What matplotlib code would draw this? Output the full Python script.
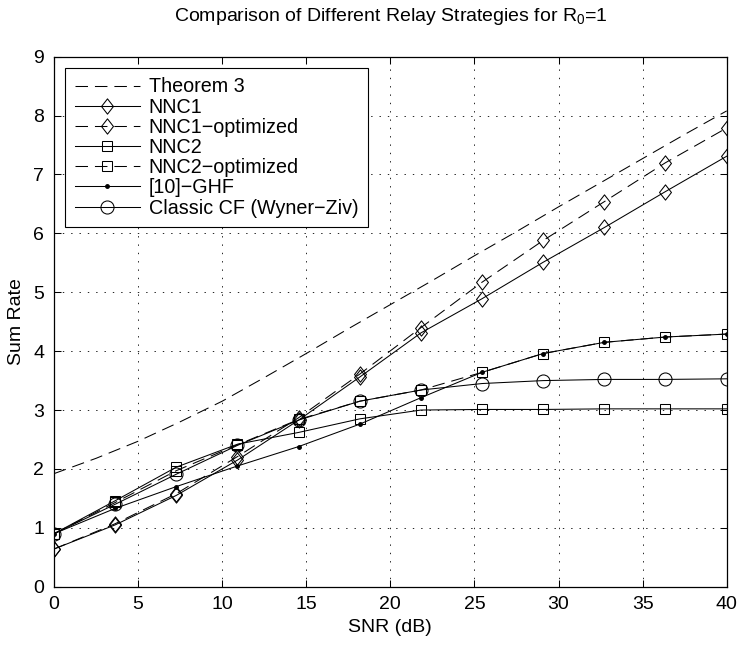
import matplotlib
matplotlib.use("Agg")
import matplotlib.pyplot as plt
from matplotlib.path import Path

# values
snr = [0, 3.64, 7.27, 10.91, 14.55, 18.18, 21.82, 25.45, 29.09, 32.73, 36.36, 40]
nnc1 = [0.64, 1.05, 1.55, 2.15, 2.83, 3.56, 4.31, 4.89, 5.51, 6.10, 6.71, 7.31]
nnc1_opt = [0.64, 1.07, 1.58, 2.21, 2.87, 3.61, 4.40, 5.17, 5.88, 6.54, 7.20, 7.79]
nnc2 = [0.90, 1.46, 2.03, 2.42, 2.62, 2.85, 3.00, 3.01, 3.01, 3.02, 3.02, 3.02]
nnc2_opt = [0.90, 1.43, 1.97, 2.41, 2.84, 3.15, 3.34, 3.64, 3.96, 4.15, 4.24, 4.29]
ghf = [0.90, 1.33, 1.70, 2.05, 2.38, 2.76, 3.21, 3.64, 3.96, 4.15, 4.24, 4.29]
classic_cf = [0.90, 1.40, 1.91, 2.40, 2.83, 3.15, 3.34, 3.45, 3.50, 3.52, 3.52, 3.53]

thm_snr = [0, 2.5, 5, 7.5, 10, 12.5, 15, 17.5, 20, 22.5, 25, 27.5, 30, 32.5, 35, 37.5, 40]
thm3 = [1.92, 2.18, 2.47, 2.80, 3.15, 3.55, 3.96, 4.38, 4.79, 5.20, 5.62, 6.03, 6.45, 6.86, 7.27, 7.68, 8.08]

plt.rcParams['font.family'] = ['Liberation Sans', 'DejaVu Sans']
plt.rcParams['mathtext.fontset'] = 'custom'
plt.rcParams['mathtext.rm'] = 'Liberation Sans'
plt.rcParams['mathtext.it'] = 'Liberation Sans'
plt.rcParams['lines.scale_dashes'] = False

# matlab style diamond, a bit taller than wide
diamond = Path([(-0.78, 0), (0, 1), (0.78, 0), (0, -1), (-0.78, 0)],
               [Path.MOVETO, Path.LINETO, Path.LINETO, Path.LINETO, Path.CLOSEPOLY])

dash = (0, (9, 5))
lw = 0.75

fig = plt.figure(figsize=(7.47, 6.46), dpi=100)
ax = fig.add_axes([0.0723, 0.0918, 0.9005, 0.8204])

ax.plot(thm_snr, thm3, color='k', lw=lw, ls=dash, label='Theorem 3')
ax.plot(snr, nnc1, color='k', lw=lw, marker=diamond, ms=11, mfc='none', mew=lw, label='NNC1')
ax.plot(snr, nnc1_opt, color='k', lw=lw, ls=dash, marker=diamond, ms=11, mfc='none', mew=lw,
        label='NNC1\u2212optimized')
ax.plot(snr, nnc2, color='k', lw=lw, marker='s', ms=7.2, mfc='none', mew=lw, label='NNC2')
ax.plot(snr, nnc2_opt, color='k', lw=lw, ls=dash, marker='s', ms=7.2, mfc='none', mew=lw,
        label='NNC2\u2212optimized')
ax.plot(snr, ghf, color='k', lw=lw, marker='.', ms=5, label='[10]\u2212GHF')
ax.plot(snr, classic_cf, color='k', lw=lw, marker='o', ms=9.4, mfc='none', mew=lw,
        label='Classic CF (Wyner\u2212Ziv)')

ax.set_xlim(0, 40)
ax.set_ylim(0, 9)
ax.set_xticks(range(0, 41, 5))
ax.set_yticks(range(0, 10))
ax.tick_params(direction='in', top=True, right=True, length=5, width=0.75, labelsize=14, pad=7)
ax.grid(True, color='k', ls=(0, (1, 5)), lw=0.6)
for s in ax.spines.values():
    s.set_linewidth(0.9)

ax.set_xlabel('SNR (dB)', fontsize=14, labelpad=4)
ax.set_ylabel('Sum Rate', fontsize=14, labelpad=6)
ax.set_title('Comparison of Different Relay Strategies for R$_0$=1', fontsize=14, pad=26)

leg = ax.legend(loc='upper left', fontsize=14.2, handlelength=3.3, handletextpad=0.45,
                labelspacing=0.06, borderpad=0.5, borderaxespad=0.55, fancybox=False,
                framealpha=1, edgecolor='k')
leg.get_frame().set_linewidth(0.8)

fig.savefig('out.png', dpi=100)
